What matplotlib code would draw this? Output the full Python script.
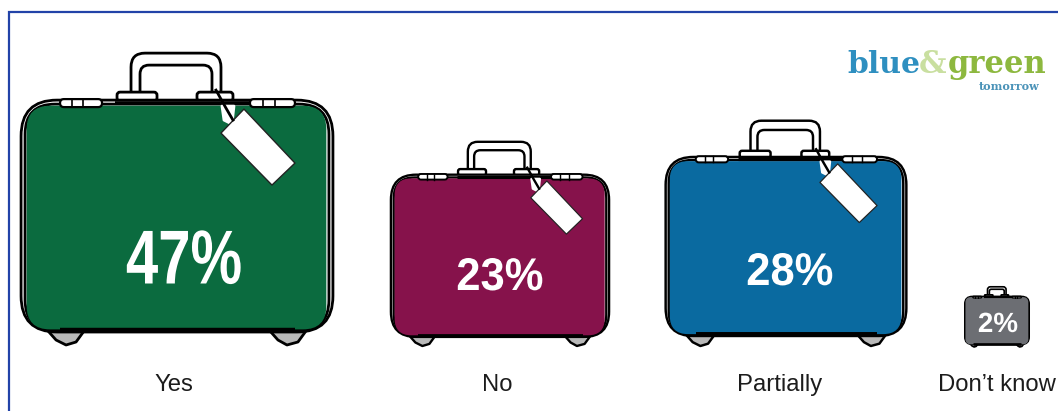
import matplotlib
matplotlib.use('Agg')
import matplotlib.pyplot as plt
from matplotlib.patches import FancyBboxPatch, Polygon
from matplotlib.patheffects import AbstractPathEffect
from matplotlib.transforms import Affine2D
import numpy as np

categories = ['Yes', 'No', 'Partially', 'Don\u2019t know']
values = [47, 23, 28, 2]
colors = ['#0b6b3f', '#86124b', '#0a6aa0', '#6c6e73']

# layout, in pixels
centers = [177, 500, 786, 997]
bottoms = [345, 346, 346, 347]
label_x = [174, 497, 780, 997]
text_pos = [(184, 264), (500, 278), (790, 273), (998, 325)]
text_size = [55, 33, 33, 20]
text_squeeze = [0.76, 0.95, 0.95, 1.0]
px_per_sqrt = 45.2

plt.rcParams['font.family'] = ['Liberation Sans', 'DejaVu Sans']

fig = plt.figure(figsize=(10.58, 4.11), dpi=100)
ax = fig.add_axes([0, 0, 1, 1])
ax.set_xlim(0, 1058)
ax.set_ylim(411, 0)
ax.axis('off')


class Squeeze(AbstractPathEffect):
    # narrows a text around a display x, there is no condensed face installed
    def __init__(self, x, factor):
        super().__init__()
        self.x = x
        self.factor = factor

    def draw_path(self, renderer, gc, tpath, affine, rgbFace=None):
        narrow = Affine2D().translate(-self.x, 0).scale(self.factor, 1).translate(self.x, 0)
        renderer.draw_path(gc, tpath, affine + narrow, rgbFace)


# frame is open to the right and bottom
ax.plot([9, 9, 1058], [411, 12, 12], color='#2243a8', lw=1.6, solid_joinstyle='miter')


def draw_case(value, cx, bottom, color):
    # shape is drawn in the pixels of a case 310 wide, then scaled by the value
    s = px_per_sqrt * np.sqrt(value) / 310
    lw = 1.0 + 1.0 * s

    def px(x):
        return cx + (x - 177) * s

    def py(y):
        return bottom - (345 - y) * s

    def box(x0, y0, x1, y1, r, face, edge='black', z=2, width=None):
        ax.add_patch(FancyBboxPatch((px(x0), py(y0)), (x1 - x0) * s, (y1 - y0) * s,
                                    boxstyle=f'round,pad=0,rounding_size={r * s}',
                                    fc=face, ec=edge, lw=lw if width is None else width, zorder=z))

    def poly(pts, face, edge='black', z=3, width=None):
        ax.add_patch(Polygon([(px(x), py(y)) for x, y in pts], closed=True, fc=face, ec=edge,
                             lw=lw if width is None else width, joinstyle='round', zorder=z))

    # handle
    box(131, 53, 221, 104, 14, 'white')
    box(140, 65, 212, 104, 9, 'white')
    # hinge blocks
    box(117, 92, 157, 101, 3, 'white', z=3)
    box(197, 92, 233, 101, 3, 'white', z=3)
    # feet
    poly([(48, 331), (84, 331), (76, 342), (66, 345), (56, 340)], '#b9b9b9', z=2)
    poly([(270, 331), (306, 331), (298, 342), (287, 345), (278, 340)], '#b9b9b9', z=2)
    # bezel lines and the coloured panel
    box(21, 100, 333, 332, 36, 'white', z=3)
    box(25, 104, 329, 330, 30, 'white', z=3)
    box(28, 107, 325, 328, 22, color, edge=color, z=4)
    ax.plot([px(60), px(295)], [py(330), py(330)], color='black', lw=lw * 1.6,
            solid_capstyle='butt', zorder=5)
    ax.plot([px(115), px(250)], [py(103), py(103)], color='black', lw=lw * 1.3,
            solid_capstyle='butt', zorder=5)
    # corner guards
    box(60, 99, 102, 107, 4, 'white', z=5, width=lw * 0.8)
    box(250, 99, 295, 107, 4, 'white', z=5, width=lw * 0.8)
    for x in [72, 83, 263, 275]:
        ax.plot([px(x), px(x)], [py(99), py(107)], color='black', lw=lw * 0.6, zorder=6)
    # luggage tag, too small to see on the smallest case
    if s > 0.3:
        poly([(222, 106), (234, 106), (232, 124), (224, 120)], 'white', edge='white', z=5)
        poly([(221, 133), (244, 109), (295, 163), (272, 185)], 'white', edge='#222222', z=6,
             width=lw * 0.5)
        ax.plot([px(216), px(226), px(233)], [py(90), py(108), py(120)], color='black',
                lw=lw, zorder=7)


for v, cx, b, c in zip(values, centers, bottoms, colors):
    draw_case(v, cx, b, c)

for i, v in enumerate(values):
    x, y = text_pos[i]
    t = ax.text(x, y, f'{v}%', color='white', fontsize=text_size[i], fontweight='bold',
                ha='center', va='center', zorder=10)
    t.set_path_effects([Squeeze(ax.transData.transform((x, y))[0], text_squeeze[i])])

for name, x in zip(categories, label_x):
    ax.text(x, 385, name, color='#1c1c1c', fontsize=17.2, ha='center', va='center')

# logo
serif = ['DejaVu Serif', 'Liberation Serif']
ax.text(847, 73, 'blue', color='#2e8fc0', fontsize=21.5, fontweight='bold', family=serif,
        ha='left', va='baseline')
ax.text(919, 73, '&', color='#c9dfa0', fontsize=22, fontweight='bold', family=serif,
        ha='left', va='baseline')
ax.text(948, 73, 'green', color='#8db83f', fontsize=22, fontweight='bold', family=serif,
        ha='left', va='baseline')
ax.text(979, 90, 'tomorrow', color='#4b93b8', fontsize=8, fontweight='bold', family=serif,
        ha='left', va='baseline')

fig.savefig('out.png', dpi=100)
